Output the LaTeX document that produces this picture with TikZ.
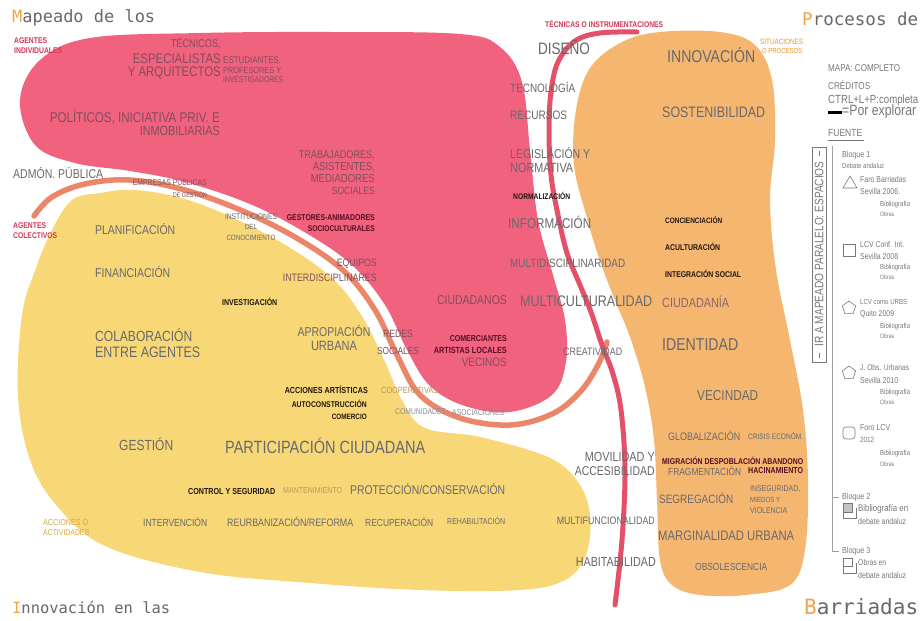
\documentclass[tikz,border=0pt]{standalone}
\usepackage{graphicx}
\usepackage{fontspec}
\setmainfont{Liberation Sans}[FakeStretch=0.82]
\newfontfamily\monof{DejaVu Sans Mono}
\usetikzlibrary{shapes.geometric}
\definecolor{pinkfill}{RGB}{241,98,126}
\definecolor{yellowfill}{RGB}{248,216,118}
\definecolor{orangefill}{RGB}{245,183,112}
\definecolor{salmon}{RGB}{236,134,106}
\definecolor{redline}{RGB}{228,80,106}
\definecolor{txtgrey}{RGB}{104,104,108}
\definecolor{pinktxt}{RGB}{128,78,92}
\definecolor{darktxt}{RGB}{35,22,15}
\definecolor{maroontxt}{RGB}{85,15,35}
\definecolor{redlabel}{RGB}{214,52,82}
\definecolor{orangelabel}{RGB}{232,148,45}
\definecolor{yellowlabel}{RGB}{214,168,60}
\definecolor{lighttxt}{RGB}{185,150,95}
\definecolor{commtxt}{RGB}{140,140,150}
\definecolor{mauvetxt}{RGB}{140,100,110}
\definecolor{sidegrey}{RGB}{120,120,120}
\definecolor{titleorange}{RGB}{240,165,70}
\newcommand{\W}[2]{\resizebox{#1pt}{!}{#2}}
\tikzset{
  lbx/.style={inner sep=0pt, text=txtgrey},
  pkx/.style={inner sep=0pt, text=pinktxt},
  bkx/.style={inner sep=0pt, text=darktxt, font=\bfseries},
  mrx/.style={inner sep=0pt, text=maroontxt, font=\bfseries},
  rlx/.style={inner sep=0pt, text=redlabel, font=\bfseries},
  olx/.style={inner sep=0pt, text=orangelabel},
  ylx/.style={inner sep=0pt, text=yellowlabel},
  ltx/.style={inner sep=0pt, text=lighttxt},
  cmx/.style={inner sep=0pt, text=commtxt},
  ttlx/.style={inner sep=0pt, text=txtgrey, font=\monof, anchor=west},
  sbx/.style={inner sep=0pt, text=sidegrey, anchor=west},
  lftx/.style={anchor=west},
  rgtx/.style={anchor=east},
  blobline/.style={line width=5.5pt, line cap=round},
  iconx/.style={draw=sidegrey, line width=0.6pt}
}
\begin{document}
\begin{tikzpicture}[x=1pt,y=-1pt]
\useasboundingbox (0,0) rectangle (922,621);
\fill[white] (0,0) rectangle (922,621);

% yellow blob
\fill[yellowfill] plot[smooth cycle, tension=0.6] coordinates {
 (72,200) (100,193) (135,190) (185,199) (240,221) (292,249) (335,281) (363,318)
 (385,362) (403,402) (425,428) (480,437) (548,457) (578,482) (590,515) (586,555)
 (565,580) (520,590) (420,590) (310,583) (200,572) (105,546) (57,506) (30,460)
 (18,395) (22,315) (36,268) (52,230)};

% pink blob
\fill[pinkfill] plot[smooth cycle, tension=0.6] coordinates {
 (20,100) (40,60) (90,38) (200,33) (330,32) (460,34) (500,47) (522,82)
 (530,150) (538,220) (553,275) (565,320) (566,362) (552,395) (510,412)
 (465,406) (430,386) (407,350) (385,305) (352,265) (306,233) (250,204)
 (185,182) (130,171) (75,163) (35,145)};

% orange blob
\fill[orangefill] plot[smooth cycle, tension=0.6] coordinates {
 (590,68) (622,42) (660,32) (720,32) (755,45) (772,80) (775,140) (770,200)
 (776,270) (790,340) (803,410) (808,480) (805,550) (790,585) (745,595)
 (700,595) (672,585) (660,560) (657,500) (654,440) (645,387) (630,337)
 (614,298) (599,258) (587,218) (574,165) (576,110)};

% salmon line wrapping the pink blob
\draw[blobline, salmon] plot[smooth, tension=0.6] coordinates {
 (34,216) (52,197) (85,184) (130,180) (185,190) (245,212) (300,240) (345,272)
 (375,310) (397,355) (420,395) (460,418) (510,425) (552,414) (580,392)
 (598,365) (607,342)};

% red line (tecnicas)
\draw[blobline, redline, line width=5pt] plot[smooth, tension=0.6] coordinates {
 (637,32) (600,33) (575,41) (558,62) (551,92) (549,130) (551,175) (558,215)
 (567,253) (580,285) (591,312) (602,345) (613,374) (621,410) (625,470)
 (622,540) (615,605)};

% ---------------- titles
\node[ttlx] (tit1) at (12,18) {\W{143}{\textcolor{titleorange}{M}apeado de los}};
\node[ttlx] (tit2) at (802,19) {\W{116}{\textcolor{titleorange}{P}rocesos de}};
\node[ttlx] (tit3) at (12,607) {\W{158}{\textcolor{titleorange}{I}nnovación en las}};
\node[ttlx] (tit4) at (804,607) {\W{114}{\textcolor{titleorange}{B}arriadas}};

% ---------------- pink blob labels
\node[rlx, lftx] (ai1) at (14,41) {\W{33}{AGENTES}};
\node[rlx, lftx] (ai2) at (14,51) {\W{48}{INDIVIDUALES}};
\node[pkx, rgtx] (te1) at (221,43) {\W{50}{TÉCNICOS,}};
\node[pkx, rgtx] (te2) at (221,59) {\W{88}{ESPECIALISTAS}};
\node[pkx, rgtx] (te3) at (221,73) {\W{93}{Y ARQUITECTOS}};
\node[pkx, lftx] (es1) at (223,61) {\W{58}{ESTUDIANTES,}};
\node[pkx, lftx] (es2) at (223,70) {\W{58}{PROFESORES Y}};
\node[pkx, lftx] (es3) at (223,80) {\W{60}{INVESTIGADORES}};
\node[pkx, rgtx] (po1) at (220,117) {\W{170}{POLÍTICOS, INICIATIVA PRIV. E}};
\node[pkx, rgtx] (po2) at (220,131) {\W{80}{INMOBILIARIAS}};
\node[pkx, rgtx] (tr1) at (375,155) {\W{76}{TRABAJADORES,}};
\node[pkx, rgtx] (tr2) at (375,167) {\W{62}{ASISTENTES,}};
\node[pkx, rgtx] (tr3) at (375,179) {\W{64}{MEDIADORES}};
\node[pkx, rgtx] (tr4) at (375,191) {\W{43}{SOCIALES}};
\node[lbx, lftx] (adm) at (13,173) {\W{90}{ADMÓN. PÚBLICA}};
\node[pkx, rgtx] (em1) at (207,182) {\W{74}{EMPRESAS PÚBLICAS}};
\node[pkx, rgtx] (em2) at (207,195) {\W{34}{DE GESTIÓN}};
\node[rlx, lftx] (ac1) at (13,226) {\W{33}{AGENTES}};
\node[rlx, lftx] (ac2) at (13,236) {\W{44}{COLECTIVOS}};
\node[lbx] (in1) at (251,217) {\W{52}{INSTITUCIONES}};
\node[lbx] (in2) at (251,227) {\W{12}{DEL}};
\node[lbx] (in3) at (251,238) {\W{49}{CONOCIMIENTO}};
\node[mrx, rgtx] (ge1) at (375,218) {\W{88}{GESTORES-ANIMADORES}};
\node[mrx, rgtx] (ge2) at (375,229) {\W{67}{SOCIOCULTURALES}};
\node[pkx, rgtx] (eq1) at (377,264) {\W{40}{EQUIPOS}};
\node[pkx, rgtx] (eq2) at (377,278) {\W{94}{INTERDISCIPLINARES}};
\node[pkx] (ciu) at (472,300) {\W{70}{CIUDADANOS}};
\node[pkx] (re1) at (398,334) {\W{30}{REDES}};
\node[pkx] (re2) at (398,351) {\W{42}{SOCIALES}};
\node[mrx, rgtx] (co1) at (507,339) {\W{57}{COMERCIANTES}};
\node[mrx, rgtx] (co2) at (507,350) {\W{73}{ARTISTAS LOCALES}};
\node[pkx, rgtx] (co3) at (507,362) {\W{45}{VECINOS}};

% ---------------- middle column
\node[rlx, lftx] (tec) at (545,24) {\W{118}{TÉCNICAS O INSTRUMENTACIONES}};
\node[lbx] (dis) at (564,47) {\W{52}{DISEÑO}};
\node[lbx, lftx] (tcn) at (510,87) {\W{65}{TECNOLOGÍA}};
\node[lbx, lftx] (rec) at (510,115) {\W{57}{RECURSOS}};
\node[lbx, lftx] (le1) at (510,153) {\W{80}{LEGISLACIÓN Y}};
\node[lbx, lftx] (le2) at (510,168) {\W{63}{NORMATIVA}};
\node[bkx, lftx] (nor) at (513,196) {\W{57}{NORMALIZACIÓN}};
\node[lbx, lftx] (inf) at (508,222) {\W{83}{INFORMACIÓN}};
\node[lbx, lftx] (mdi) at (510,263) {\W{115}{MULTIDISCIPLINARIDAD}};
\node[lbx, lftx] (mcu) at (520,301) {\W{132}{MULTICULTURALIDAD}};
\node[lbx, lftx] (cre) at (563,352) {\W{59}{CREATIVIDAD}};

% ---------------- orange blob labels
\node[lbx, lftx] (inn) at (667,55) {\W{88}{INNOVACIÓN}};
\node[olx, lftx] (si1) at (760,42) {\W{43}{SITUACIONES}};
\node[olx, lftx] (si2) at (762,51) {\W{40}{O PROCESOS}};
\node[lbx, lftx] (sos) at (662,112) {\W{103}{SOSTENIBILIDAD}};
\node[bkx, lftx] (con) at (665,220) {\W{57}{CONCIENCIACIÓN}};
\node[bkx, lftx] (acu) at (665,247) {\W{55}{ACULTURACIÓN}};
\node[bkx, lftx] (ins) at (665,274) {\W{76}{INTEGRACIÓN SOCIAL}};
\node[inner sep=0pt, text=mauvetxt, lftx] (cda) at (662,302) {\W{67}{CIUDADANÍA}};
\node[lbx, lftx] (ide) at (662,345) {\W{76}{IDENTIDAD}};
\node[lbx, lftx] (vec) at (697,396) {\W{61}{VECINDAD}};
\node[lbx, lftx] (glo) at (668,436) {\W{72}{GLOBALIZACIÓN}};
\node[lbx, lftx] (cri) at (748,436) {\W{55}{CRISIS ECONÓM.}};
\node[mrx, lftx] (mig) at (662,461) {\W{141}{MIGRACIÓN DESPOBLACIÓN ABANDONO}};
\node[lbx, lftx] (fra) at (668,471) {\W{73}{FRAGMENTACIÓN}};
\node[mrx, lftx] (hac) at (748,471) {\W{55}{HACINAMIENTO}};
\node[lbx, lftx] (seg) at (659,498) {\W{74}{SEGREGACIÓN}};
\node[lbx, lftx] (iv1) at (750,489) {\W{50}{INSEGURIDAD,}};
\node[lbx, lftx] (iv2) at (750,500) {\W{30}{MIEDOS Y}};
\node[lbx, lftx] (iv3) at (750,511) {\W{37}{VIOLENCIA}};
\node[lbx, lftx] (mar) at (658,536) {\W{136}{MARGINALIDAD URBANA}};
\node[lbx, lftx] (obs) at (695,567) {\W{72}{OBSOLESCENCIA}};

% ---------------- right-middle (white) labels
\node[lbx, rgtx] (mo1) at (655,457) {\W{70}{MOVILIDAD Y}};
\node[lbx, rgtx] (mo2) at (655,471) {\W{80}{ACCESIBILIDAD}};
\node[lbx, rgtx] (mfu) at (655,521) {\W{98}{MULTIFUNCIONALIDAD}};
\node[lbx, rgtx] (hab) at (656,562) {\W{80}{HABITABILIDAD}};

% ---------------- yellow blob labels
\node[lbx, lftx] (pla) at (95,229) {\W{80}{PLANIFICACIÓN}};
\node[lbx, lftx] (fin) at (95,272) {\W{75}{FINANCIACIÓN}};
\node[bkx, lftx] (inv) at (222,302) {\W{55}{INVESTIGACIÓN}};
\node[lbx, lftx] (cl1) at (95,335) {\W{97}{COLABORACIÓN}};
\node[lbx, lftx] (cl2) at (95,352) {\W{105}{ENTRE AGENTES}};
\node[lbx] (ap1) at (334,331) {\W{73}{APROPIACIÓN}};
\node[lbx] (ap2) at (334,346) {\W{46}{URBANA}};
\node[bkx, rgtx] (aa1) at (368,390) {\W{83}{ACCIONES ARTÍSTICAS}};
\node[bkx, rgtx] (aa2) at (367,404) {\W{75}{AUTOCONSTRUCCIÓN}};
\node[bkx, rgtx] (aa3) at (367,417) {\W{35}{COMERCIO}};
\node[ltx, lftx] (coo) at (381,390) {\W{57}{COOPERATIVAS}};
\node[cmx, lftx] (cmu) at (395,412) {\W{51}{COMUNIDADES}};
\node[cmx, lftx] (aso) at (452,413) {\W{52}{ASOCIACIONES}};
\node[lbx, lftx] (ges) at (119,444) {\W{54}{GESTIÓN}};
\node[lbx, lftx] (par) at (225,446) {\W{200}{PARTICIPACIÓN CIUDADANA}};
\node[bkx, lftx] (cys) at (188,491) {\W{87}{CONTROL Y SEGURIDAD}};
\node[ltx, lftx] (man) at (283,491) {\W{59}{MANTENIMIENTO}};
\node[lbx, lftx] (pro) at (350,489) {\W{155}{PROTECCIÓN/CONSERVACIÓN}};
\node[ylx, lftx] (aa4) at (43,522) {\W{45}{ACCIONES O}};
\node[ylx, lftx] (aa5) at (43,533) {\W{46}{ACTIVIDADES}};
\node[lbx, lftx] (int) at (143,522) {\W{64}{INTERVENCIÓN}};
\node[lbx, lftx] (reu) at (227,522) {\W{126}{REURBANIZACIÓN/REFORMA}};
\node[lbx, lftx] (rcp) at (365,522) {\W{68}{RECUPERACIÓN}};
\node[lbx, lftx] (reh) at (447,521) {\W{58}{REHABILITACIÓN}};

% ---------------- sidebar
\node[sbx] (map) at (828,68) {\W{72}{MAPA: COMPLETO}};
\node[sbx] (cred) at (828,85) {\W{42}{CRÉDITOS}};
\node[sbx] (ctrl) at (828,100) {\W{90}{CTRL+L+P:completa}};
\fill[black] (828,111) rectangle (842,114);
\node[sbx] (pex) at (842,112) {\W{74}{=Por explorar}};
\node[sbx] (fue) at (828,133) {\W{34}{FUENTE}};
\draw[sidegrey, line width=0.5pt] (828,140) -- (864,140);

\draw[sidegrey, line width=0.6pt] (812,147) rectangle (826,362);
\node[inner sep=0pt, text=sidegrey, rotate=90] (irm) at (819,254) {\W{185}{IR A MAPEADO PARALELO: ESPACIOS}};
\draw[sidegrey, line width=0.5pt] (819,151) -- (819,156) (819,353) -- (819,358);

\draw[sidegrey!70, line width=0.8pt] (832,146) -- (832,551);
\draw[sidegrey!70, line width=0.6pt] (832,497) -- (839,497) (832,551) -- (839,551);

\node[sbx] (b1) at (842,155) {\W{28}{Bloque 1}};
\node[sbx] (b1d) at (842,166) {\W{42}{Debate andaluz}};

\draw[iconx] (843,188) -- (857,188) -- (850,176) -- cycle;
\node[sbx] (f1a) at (860,179) {\W{46}{Faro Barriadas}};
\node[sbx] (f1b) at (860,191) {\W{40}{Sevilla 2006.}};
\node[sbx] (f1c) at (880,205) {\W{30}{Bibliografía}};
\node[sbx] (f1d) at (880,214) {\W{14}{Obras}};

\draw[iconx] (843,244) rectangle (855,256);
\node[sbx] (f2a) at (860,244) {\W{44}{LCV Conf. Int.}};
\node[sbx] (f2b) at (860,256) {\W{38}{Sevilla 2008}};
\node[sbx] (f2c) at (880,268) {\W{30}{Bibliografía}};
\node[sbx] (f2d) at (880,277) {\W{14}{Obras}};

\node[iconx, regular polygon, regular polygon sides=5, minimum size=14pt, inner sep=0pt] (ic3) at (849,308) {};
\node[sbx] (f3a) at (860,302) {\W{47}{LCV como URBS}};
\node[sbx] (f3b) at (860,314) {\W{34}{Quito 2009}};
\node[sbx] (f3c) at (880,327) {\W{30}{Bibliografía}};
\node[sbx] (f3d) at (880,336) {\W{14}{Obras}};

\node[iconx, regular polygon, regular polygon sides=5, minimum size=14pt, inner sep=0pt] (ic4) at (849,373) {};
\node[sbx] (f4a) at (860,368) {\W{49}{J. Obs. Urbanas}};
\node[sbx] (f4b) at (860,380) {\W{38}{Sevilla 2010}};
\node[sbx] (f4c) at (880,393) {\W{30}{Bibliografía}};
\node[sbx] (f4d) at (880,402) {\W{14}{Obras}};

\draw[iconx, rounded corners=3pt] (843,427) rectangle (855,439);
\node[sbx] (f5a) at (860,428) {\W{30}{Foro LCV}};
\node[sbx] (f5b) at (860,440) {\W{14}{2012}};
\node[sbx] (f5c) at (880,454) {\W{30}{Bibliografía}};
\node[sbx] (f5d) at (880,464) {\W{14}{Obras}};

\node[sbx] (b2) at (842,497) {\W{28}{Bloque 2}};
\fill[sidegrey!45] (843,503) rectangle (852,512);
\draw[iconx] (843,503) rectangle (852,512) (843,512) -- (843,518) -- (856,518) -- (856,508);
\node[sbx] (b2a) at (858,509) {\W{50}{Bibliografía en}};
\node[sbx] (b2b) at (858,521) {\W{48}{debate andaluz}};

\node[sbx] (b3) at (842,551) {\W{28}{Bloque 3}};
\draw[iconx] (843,558) rectangle (852,566) (843,566) -- (843,573) -- (856,573) -- (856,563);
\node[sbx] (b3a) at (858,563) {\W{28}{Obras en}};
\node[sbx] (b3b) at (858,575) {\W{48}{debate andaluz}};
\end{tikzpicture}
\end{document}
